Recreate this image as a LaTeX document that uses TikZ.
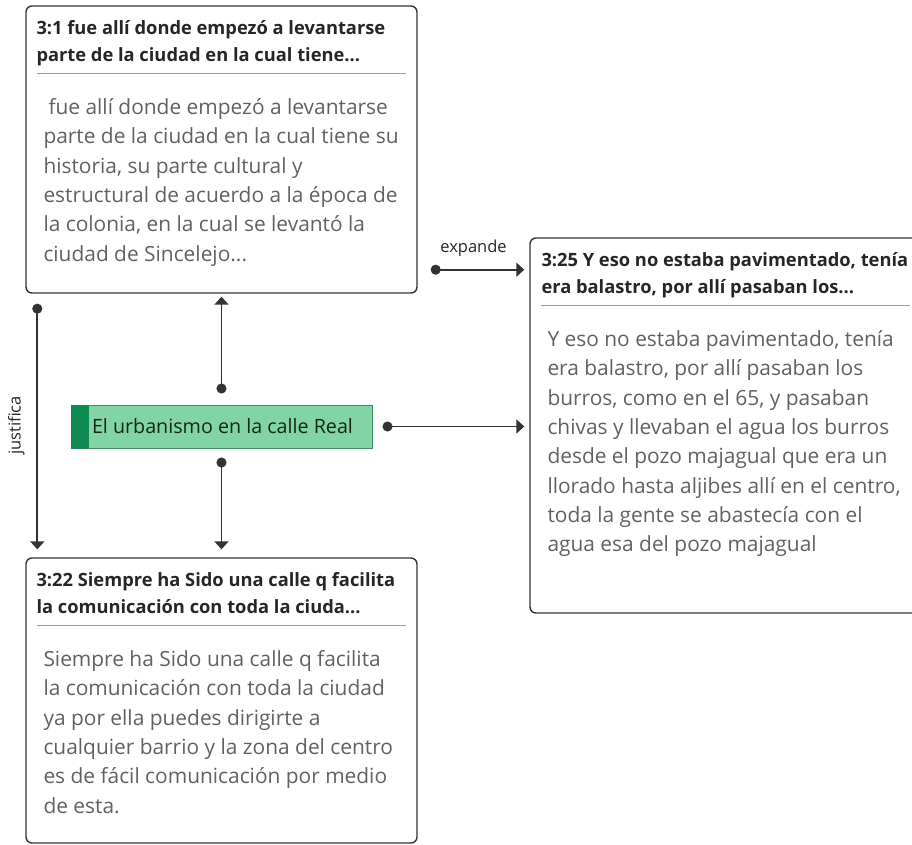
\documentclass[tikz,border=0pt]{standalone}
\usepackage{fontspec}
\setmainfont{Open Sans}
\usetikzlibrary{arrows.meta}
\definecolor{urbfill}{RGB}{130,212,164}
\definecolor{urbdark}{RGB}{14,138,82}
\definecolor{urbline}{RGB}{58,148,98}
\definecolor{urbtext}{RGB}{20,40,26}

\begin{document}
\begin{tikzpicture}[x=1pt,y=-1pt,
    quote/.style={draw=black!80, line width=1.4pt, rounded corners=6pt, minimum width=391pt},
    head/.style={anchor=north west, align=left, inner sep=0pt, text=black!85, font=\fontsize{18.3}{27}\selectfont\bfseries},
    body/.style={anchor=north west, align=left, inner sep=0pt, text=black!62, font=\fontsize{20.9}{29.3}\selectfont},
    rule/.style={draw=black!40, line width=1.2pt},
    link/.style={draw=black!80, line width=1.7pt, {Circle[length=10pt]}-{Triangle[length=8pt,width=14pt]}},
    lbl/.style={font=\fontsize{16.5}{18}\selectfont, text=black!85}]
                \useasboundingbox (0,0) rectangle (912,844);
                \clip (0,0) rectangle (912,844);

                \node (q31) at (221.5,149.5) [quote, minimum height=287pt] {};
                \node (q325) at (725.5,425.5) [quote, minimum height=375pt] {};
                \node (q322) at (221.5,700.5) [quote, minimum height=285pt] {};
                \node (urb) at (221.5,426.5) [draw=urbline, fill=urbfill, line width=1pt, minimum width=301pt, minimum height=43pt] {};
                \fill[urbdark] (urb.north west) rectangle ([xshift=18pt]urb.south west);
                \node (urbt) at ([xshift=1pt]urb.center) [text=urbtext, font=\fontsize{19.7}{24}\selectfont] {El urbanismo en la calle Real};

                % cabeceras
                \node (q31h) at ([xshift=11pt,yshift=-15pt]q31.north west) [head] {3:1 fue allí donde empezó a levantarse\\parte de la ciudad en la cual tiene...};
                \node (q325h) at ([xshift=12pt,yshift=-15pt]q325.north west) [head] {3:25 Y eso no estaba pavimentado, tenía\\era balastro, por allí pasaban los...};
                \node (q322h) at ([xshift=11pt,yshift=-15pt]q322.north west) [head] {3:22 Siempre ha Sido una calle q facilita\\la comunicación con toda la ciuda...};

                \draw[rule] ([xshift=12pt,yshift=-68pt]q31.north west) -- ([xshift=-12pt,yshift=-68pt]q31.north east);
                \draw[rule] ([xshift=12pt,yshift=-68pt]q325.north west) -- ([xshift=-12pt,yshift=-68pt]q325.north east);
                \draw[rule] ([xshift=12pt,yshift=-68pt]q322.north west) -- ([xshift=-12pt,yshift=-68pt]q322.north east);

                % citas
                \node (q31b) at ([xshift=18pt,yshift=-93pt]q31.north west) [body] {\hspace{5pt}fue allí donde empezó a levantarse\\parte de la ciudad en la cual tiene su\\historia, su parte cultural y\\estructural de acuerdo a la época de\\la colonia, en la cual se levantó la\\ciudad de Sincelejo...};
                \node (q325b) at ([xshift=18pt,yshift=-93pt]q325.north west) [body] {Y eso no estaba pavimentado, tenía\\era balastro, por allí pasaban los\\burros, como en el 65, y pasaban\\chivas y llevaban el agua los burros\\desde el pozo majagual que era un\\llorado hasta aljibes allí en el centro,\\toda la gente se abastecía con el\\agua esa del pozo majagual};
                \node (q322b) at ([xshift=18pt,yshift=-93pt]q322.north west) [body] {Siempre ha Sido una calle q facilita\\la comunicación con toda la ciudad\\ya por ella puedes dirigirte a\\cualquier barrio y la zona del centro\\es de fácil comunicación por medio\\de esta.};

                % enlaces
                \coordinate (exp) at ([yshift=24pt]q31.south east);
                \draw[link, shorten <=13pt, shorten >=5pt] (exp) -- (exp -| q325.west) node[midway, yshift=21pt, lbl] {expande};
                \draw[link, shorten <=10pt, shorten >=5pt] (urb.east) -- (urb.east -| q325.west);
                \draw[link, shorten <=11pt, shorten >=3pt] (urb.north) -- (urb.north |- q31.south);
                \draw[link, shorten <=9pt, shorten >=8pt] (urb.south) -- (urb.south |- q322.north);
                \draw[link, shorten <=10pt, shorten >=8pt] ([xshift=12pt]q31.south west) -- ([xshift=12pt]q322.north west) node[midway, xshift=-21pt, rotate=90, lbl] {justifica};
\end{tikzpicture}
\end{document}
